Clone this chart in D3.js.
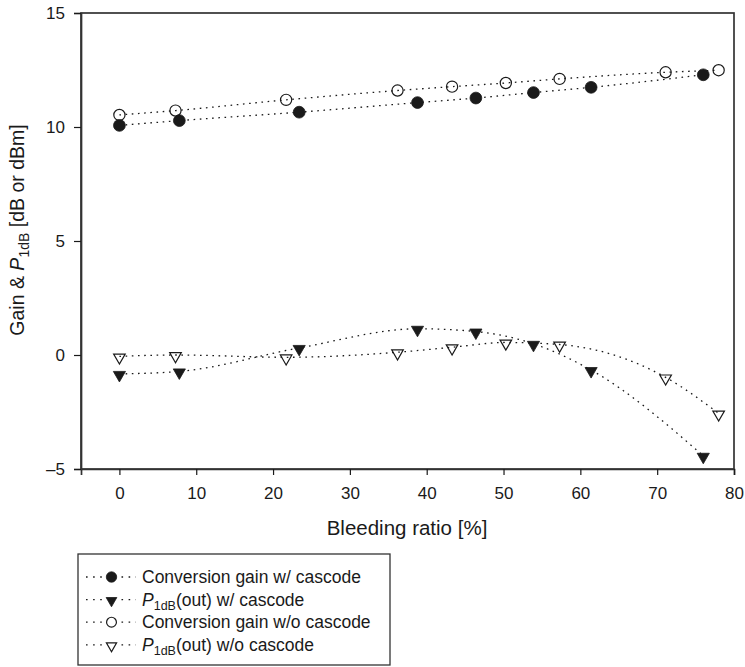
<!DOCTYPE html>
<html>
<head>
<meta charset="utf-8">
<script src="https://cdn.jsdelivr.net/npm/d3@7/dist/d3.min.js"></script>
<style>
  html, body { margin: 0; padding: 0; background: #fff; }
  svg { display: block; font-family: Arial, "Liberation Sans", Helvetica, sans-serif; }
</style>
</head>
<body>
<svg id="chart" width="745" height="667"></svg>
<script>
// Bleeding ratio (%) for each measured point
const xCascode   = [0, 7.8, 23.4, 38.8, 46.4, 53.9, 61.4, 76.0];
const xNoCascode = [0, 7.3, 21.7, 36.2, 43.3, 50.3, 57.3, 71.1, 78.0];

// Conversion gain (dB) and output P1dB (dBm)
const gainCascode   = [10.07, 10.28, 10.65, 11.07, 11.27, 11.51, 11.74, 12.29];
const p1dbCascode   = [-0.83, -0.72, 0.31, 1.15, 1.03, 0.49, -0.66, -4.42];
const gainNoCascode = [10.53, 10.72, 11.19, 11.60, 11.77, 11.93, 12.11, 12.40, 12.49];
const p1dbNoCascode = [-0.06, 0.00, -0.10, 0.12, 0.34, 0.55, 0.46, -0.98, -2.56];

const xTicks = [0, 10, 20, 30, 40, 50, 60, 70, 80];
const yTicks = [-5, 0, 5, 10, 15];

const series = [
  { name: "Conversion gain w/ cascode", xs: xCascode, ys: gainCascode, shape: "circle", filled: true },
  { name: "P1dB(out) w/ cascode", xs: xCascode, ys: p1dbCascode, shape: "triangle", filled: true, p1: true, label: " w/ cascode" },
  { name: "Conversion gain w/o cascode", xs: xNoCascode, ys: gainNoCascode, shape: "circle", filled: false },
  { name: "P1dB(out) w/o cascode", xs: xNoCascode, ys: p1dbNoCascode, shape: "triangle", filled: false, p1: true, label: " w/o cascode" }
];

const svg = d3.select("#chart");
const plot = { left: 81, right: 734, top: 13, bottom: 469 };

const x = d3.scaleLinear().domain([-5, 80]).range([plot.left, plot.right]);
const y = d3.scaleLinear().domain([-5, 15]).range([plot.bottom, plot.top]);

const ink = "#1a1a1a";

// Frame
svg.append("rect")
  .attr("x", plot.left).attr("y", plot.top)
  .attr("width", plot.right - plot.left).attr("height", plot.bottom - plot.top)
  .attr("fill", "none").attr("stroke", "#333").attr("stroke-width", 1.7);

// Axes
const xAxis = svg.append("g")
  .attr("transform", `translate(0,${plot.bottom})`)
  .call(d3.axisBottom(x).tickValues(xTicks).tickSize(6).tickPadding(12));
const yAxis = svg.append("g")
  .attr("transform", `translate(${plot.left},0)`)
  .call(d3.axisLeft(y).tickValues(yTicks).tickSize(7).tickPadding(9)
    .tickFormat(d => d < 0 ? "\u2013" + Math.abs(d) : d));
[xAxis, yAxis].forEach(g => {
  g.select(".domain").attr("stroke", "#333").attr("stroke-width", 1.7);
  g.selectAll(".tick line").attr("stroke", ink).attr("stroke-width", 1.2);
  g.selectAll(".tick text").attr("fill", ink).attr("font-size", 17)
    .attr("font-family", "Arial, 'Liberation Sans', sans-serif");
});

// Axis titles
svg.append("text")
  .attr("x", 407).attr("y", 535)
  .attr("text-anchor", "middle").attr("font-size", 20.5).attr("fill", ink)
  .text("Bleeding ratio [%]");

const yTitle = svg.append("text")
  .attr("transform", "translate(24,230) rotate(-90)")
  .attr("text-anchor", "middle").attr("font-size", 19.5).attr("fill", ink);
yTitle.append("tspan").text("Gain & ");
yTitle.append("tspan").attr("font-style", "italic").text("P");
yTitle.append("tspan").attr("font-size", 14).attr("dy", 5).text("1dB");
yTitle.append("tspan").attr("dy", -5).text(" [dB or dBm]");

// Markers
function drawMarker(g, s, cx, cy, k = 1) {
  if (s.shape === "circle") {
    g.append("circle").attr("cx", cx).attr("cy", cy).attr("r", (s.filled ? 5.9 : 5.6) * k)
      .attr("fill", s.filled ? ink : "none")
      .attr("stroke", ink).attr("stroke-width", s.filled ? 0.8 : 1.2);
  } else {
    g.append("path")
      .attr("d", d3.symbol().type(d3.symbolTriangle).size((s.filled ? 64 : 58) * k * k)())
      .attr("transform", `translate(${cx},${cy + 1}) rotate(180)`)
      .attr("fill", s.filled ? ink : "none")
      .attr("stroke", ink).attr("stroke-width", s.filled ? 0.8 : 1.2);
  }
}

const line = d3.line().curve(d3.curveMonotoneX);
const plotG = svg.append("g");
series.forEach(s => {
  const pts = s.xs.map((v, i) => [x(v), y(s.ys[i])]);
  plotG.append("path")
    .attr("d", line(pts))
    .attr("fill", "none").attr("stroke", ink)
    .attr("stroke-width", 1.3).attr("stroke-dasharray", "1.6,4.6");
});
series.forEach(s => {
  const g = plotG.append("g");
  s.xs.forEach((v, i) => drawMarker(g, s, x(v), y(s.ys[i])));
});

// Legend
const legend = svg.append("g");
legend.append("rect")
  .attr("x", 78).attr("y", 554).attr("width", 312).attr("height", 111)
  .attr("fill", "#fff").attr("stroke", "#333").attr("stroke-width", 1.3);
series.forEach((s, i) => {
  const cy = 577 + i * 22.6;
  legend.append("line")
    .attr("x1", 86).attr("x2", 136).attr("y1", cy).attr("y2", cy)
    .attr("stroke", ink).attr("stroke-width", 1.3).attr("stroke-dasharray", "1.6,5.5");
  legend.append("rect").attr("x", 104).attr("y", cy - 7).attr("width", 15).attr("height", 14).attr("fill", "#fff");
  drawMarker(legend, s, 111.5, cy, 0.88);
  const t = legend.append("text")
    .attr("x", 142).attr("y", cy + 6)
    .attr("font-size", 17.5).attr("fill", ink);
  if (s.p1) {
    t.append("tspan").attr("font-style", "italic").text("P");
    t.append("tspan").attr("font-size", 12.5).attr("dy", 4).text("1dB");
    t.append("tspan").attr("dy", -4).text("(out)" + s.label);
  } else {
    t.text(s.name);
  }
});
</script>
</body>
</html>
